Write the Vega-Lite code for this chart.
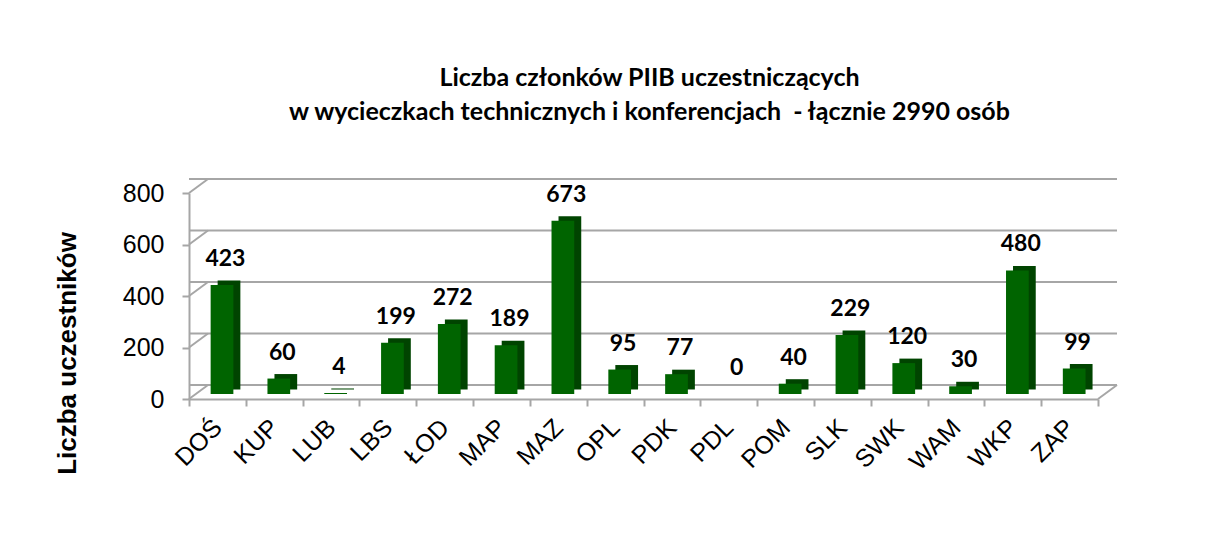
{
  "$schema": "https://vega.github.io/schema/vega-lite/v6.json",
  "autosize": "none",
  "width": 909,
  "height": 206,
  "padding": {"left": 189, "top": 193, "right": 110, "bottom": 148},
  "background": "white",
  "title": {
    "text": ["Liczba członków PIIB uczestniczących", "w wycieczkach technicznych i konferencjach\u00a0 - łącznie 2990 osób"],
    "font": "Lato",
    "fontSize": 25,
    "fontWeight": "bold",
    "color": "black",
    "lineHeight": 34,
    "anchor": "middle",
    "frame": "group",
    "offset": 53,
    "dx": 6
  },
  "datasets": {
    "bars": [
      {"okreg": "DOŚ", "liczba": 423},
      {"okreg": "KUP", "liczba": 60},
      {"okreg": "LUB", "liczba": 4},
      {"okreg": "LBS", "liczba": 199},
      {"okreg": "ŁOD", "liczba": 272},
      {"okreg": "MAP", "liczba": 189},
      {"okreg": "MAZ", "liczba": 673},
      {"okreg": "OPL", "liczba": 95},
      {"okreg": "PDK", "liczba": 77},
      {"okreg": "PDL", "liczba": 0},
      {"okreg": "POM", "liczba": 40},
      {"okreg": "SLK", "liczba": 229},
      {"okreg": "SWK", "liczba": 120},
      {"okreg": "WAM", "liczba": 30},
      {"okreg": "WKP", "liczba": 480},
      {"okreg": "ZAP", "liczba": 99}
    ],
    "grid": [
      {"poziom": 0}, {"poziom": 200}, {"poziom": 400}, {"poziom": 600}, {"poziom": 800}
    ]
  },
  "layer": [
    {
      "data": {"name": "grid"},
      "mark": {"type": "rule", "color": "#a6a6a6", "strokeWidth": 2, "xOffset": 19, "x2Offset": 19, "yOffset": -14},
      "encoding": {
        "y": {"field": "poziom", "type": "quantitative", "scale": {"domain": [0, 800]},
          "axis": {"values": [0, 200, 400, 600, 800], "grid": false, "title": "Liczba uczestników",
            "titleFont": "Liberation Sans", "titleFontSize": 26, "titleFontWeight": "bold", "titleColor": "black",
            "titleX": -114, "titleY": 160, "titleAngle": -90, "titleAlign": "center", "titleBaseline": "alphabetic",
            "labelFont": "Liberation Sans", "labelFontSize": 25, "labelColor": "black", "labelPadding": 18,
            "domainColor": "#a6a6a6", "domainWidth": 2, "tickColor": "#a6a6a6", "tickWidth": 2, "tickSize": 7}}
      }
    },
    {
      "data": {"name": "grid"},
      "mark": {"type": "rule", "color": "#a6a6a6", "strokeWidth": 2, "x2Offset": 19, "y2Offset": -14},
      "encoding": {
        "x": {"datum": "DOŚ", "type": "nominal", "bandPosition": 0},
        "x2": {"datum": "DOŚ", "bandPosition": 0},
        "y": {"field": "poziom", "type": "quantitative"},
        "y2": {"field": "poziom"}
      }
    },
    {
      "data": {"values": [{"poziom": 0}]},
      "mark": {"type": "rule", "color": "#a6a6a6", "strokeWidth": 2, "x2Offset": 19, "y2Offset": -14},
      "encoding": {
        "x": {"datum": "ZAP", "type": "nominal", "bandPosition": 1},
        "x2": {"datum": "ZAP", "bandPosition": 1},
        "y": {"field": "poziom", "type": "quantitative"},
        "y2": {"field": "poziom"}
      }
    },
    {
      "data": {"name": "bars"},
      "mark": {"type": "bar", "color": "#004400", "width": {"band": 0.4}, "xOffset": 11.6, "yOffset": -9.5, "y2Offset": -9.5},
      "encoding": {
        "x": {"field": "okreg", "type": "nominal", "sort": null,
          "scale": {"domain": ["DOŚ", "KUP", "LUB", "LBS", "ŁOD", "MAP", "MAZ", "OPL", "PDK", "PDL", "POM", "SLK", "SWK", "WAM", "WKP", "ZAP"], "paddingInner": 0, "paddingOuter": 0},
          "axis": {"title": null, "labelAngle": -45, "labelAlign": "right", "labelBaseline": "middle",
            "labelFont": "Liberation Sans", "labelFontSize": 25, "labelColor": "black", "labelPadding": 17,
            "domainColor": "#a6a6a6", "domainWidth": 2, "tickColor": "#a6a6a6", "tickWidth": 2, "tickSize": 7,
            "tickBand": "extent"}},
        "y": {"field": "liczba", "type": "quantitative"},
        "y2": {"datum": 0}
      }
    },
    {
      "data": {"name": "bars"},
      "mark": {"type": "bar", "color": "#006400", "width": {"band": 0.4}, "xOffset": 4.6, "yOffset": -5, "y2Offset": -5},
      "encoding": {
        "x": {"field": "okreg", "type": "nominal", "sort": null},
        "y": {"field": "liczba", "type": "quantitative"},
        "y2": {"datum": 0}
      }
    },
    {
      "data": {"name": "bars"},
      "mark": {"type": "text", "font": "Lato", "fontSize": 23, "fontWeight": "bold", "color": "black",
        "baseline": "alphabetic", "align": "center", "dx": 8, "dy": -24},
      "encoding": {
        "x": {"field": "okreg", "type": "nominal", "sort": null},
        "y": {"field": "liczba", "type": "quantitative"},
        "text": {"field": "liczba", "type": "quantitative"}
      }
    }
  ],
  "config": {"view": {"stroke": null}}
}
